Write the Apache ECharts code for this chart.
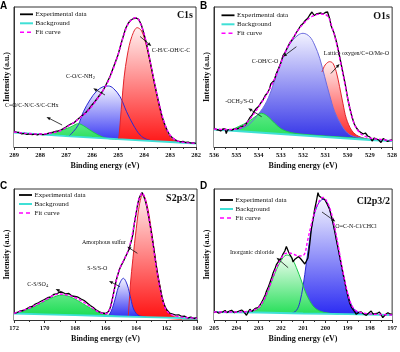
<!DOCTYPE html>
<html>
<head>
<meta charset="utf-8">
<script src="https://cdn.jsdelivr.net/npm/echarts@6/dist/echarts.min.js"></script>
<style>
  html, body { margin: 0; background: #fff; }
  #chart { width: 400px; height: 352px; }
</style>
</head>
<body>
<div id="chart"></div>
<script>
// ---- panel A: C1s  [binding energy, intensity] ----
const aExp = [[289.0,15.3],[288.9,14.8],[288.8,14.5],[288.7,13.2],[288.6,13.6],[288.5,12.6],[288.4,13.2],[288.3,12.4],[288.2,12.8],[288.1,12.1],[288.0,13.0],[287.9,12.3],[287.8,12.6],[287.7,13.5],[287.6,14.2],[287.5,14.8],[287.4,15.6],[287.3,16.2],[287.2,17.0],[287.1,18.4],[287.0,20.0],[286.9,21.8],[286.8,23.2],[286.7,24.1],[286.6,26.5],[286.5,28.8],[286.4,31.0],[286.3,33.0],[286.2,35.5],[286.1,38.5],[286.0,42.0],[285.9,45.0],[285.8,48.5],[285.7,52.0],[285.6,55.5],[285.5,60.0],[285.4,65.5],[285.3,71.0],[285.2,78.0],[285.1,85.0],[285.0,92.0],[284.9,101.5],[284.8,110.5],[284.7,119.0],[284.6,124.0],[284.5,127.0],[284.4,128.5],[284.35,130.0],[284.3,129.0],[284.25,129.6],[284.2,127.5],[284.1,122.0],[284.0,113.0],[283.9,103.0],[283.8,90.0],[283.7,77.0],[283.6,64.0],[283.5,52.0],[283.4,40.5],[283.3,30.0],[283.2,22.5],[283.1,16.0],[283.0,11.5],[282.9,9.0],[282.8,7.2],[282.7,6.0],[282.6,5.2],[282.5,5.6],[282.4,4.5],[282.3,4.8],[282.2,4.0],[282.1,4.2],[282.0,3.6]];
const aFit = [[289.0,15.0],[288.5,13.6],[288.0,13.0],[287.6,13.8],[287.2,16.5],[287.0,19.5],[286.8,22.8],[286.6,26.3],[286.4,30.5],[286.2,35.0],[286.0,41.0],[285.8,48.0],[285.6,55.5],[285.4,64.5],[285.2,77.0],[285.0,92.0],[284.8,110.0],[284.6,123.5],[284.4,128.8],[284.3,129.2],[284.2,127.0],[284.0,113.5],[283.8,90.5],[283.6,64.5],[283.4,41.0],[283.2,23.0],[283.0,12.0],[282.8,7.3],[282.6,5.3],[282.4,4.5],[282.2,4.0],[282.0,3.6]];
const aBg = [[289,14.5],[288,12.6],[287,10.9],[286,9.3],[285,7.8],[284,6.4],[283,5.0],[282,3.5]];
const aRed = [[285.1,7.6],[285.0,8.0],[284.95,14.0],[284.9,30.0],[284.85,45.0],[284.77,68.7],[284.64,92.0],[284.47,110.3],[284.26,119.3],[284.09,116.0],[283.9,100.3],[283.7,77.0],[283.51,52.0],[283.32,30.3],[283.13,15.3],[282.93,8.0],[282.68,5.3],[282.4,4.4]];
const aBlue = [[286.9,10.6],[286.72,15.3],[286.53,22.0],[286.33,35.3],[286.08,47.0],[285.82,56.0],[285.57,60.3],[285.37,61.0],[285.18,58.7],[284.92,50.3],[284.67,35.3],[284.41,22.0],[284.15,12.0],[283.9,7.7],[283.58,5.6]];
const aGreen = [[287.7,11.9],[287.62,13.7],[287.23,16.3],[286.85,19.7],[286.6,23.0],[286.53,23.3],[286.33,21.3],[286.08,17.0],[285.76,12.0],[285.43,8.7],[285.05,7.8]];

// ---- panel B: O1s ----
const bExp = [[536.0,18.7],[535.9,17.5],[535.8,17.0],[535.7,16.0],[535.6,18.0],[535.5,18.2],[535.45,13.5],[535.4,16.8],[535.3,17.5],[535.2,16.8],[535.1,17.8],[535.0,18.0],[534.9,18.7],[534.8,20.0],[534.7,20.8],[534.6,22.0],[534.5,25.0],[534.4,29.0],[534.3,31.5],[534.2,35.5],[534.1,38.5],[534.0,40.5],[533.9,44.0],[533.8,47.0],[533.7,51.5],[533.6,54.0],[533.5,58.5],[533.45,63.0],[533.4,61.0],[533.3,66.5],[533.2,73.5],[533.1,78.5],[533.0,84.0],[532.9,91.5],[532.8,95.0],[532.75,93.0],[532.7,99.5],[532.6,104.0],[532.5,107.0],[532.4,110.5],[532.3,114.5],[532.2,118.0],[532.1,121.5],[532.0,123.5],[531.9,126.5],[531.8,128.5],[531.7,132.0],[531.6,135.0],[531.5,131.5],[531.4,133.0],[531.3,133.5],[531.2,134.0],[531.1,133.0],[531.0,134.5],[530.9,135.0],[530.85,133.0],[530.8,128.0],[530.75,122.0],[530.7,119.0],[530.6,113.5],[530.5,105.0],[530.4,95.0],[530.3,84.0],[530.2,73.0],[530.1,62.0],[530.0,49.0],[529.9,38.5],[529.8,30.0],[529.7,23.0],[529.6,19.0],[529.5,16.0],[529.4,14.5],[529.3,13.0],[529.2,14.0],[529.1,11.0],[529.0,10.0],[528.9,6.0],[528.8,9.0],[528.7,8.0],[528.6,7.0],[528.5,4.5],[528.4,8.5],[528.3,7.0],[528.2,5.5],[528.1,6.5],[528.0,7.0]];
const bFit = [[536.0,18.0],[535.5,17.5],[535.0,18.0],[534.7,20.5],[534.4,27.5],[534.0,40.0],[533.6,54.0],[533.2,72.0],[532.8,95.0],[532.4,111.0],[532.0,123.0],[531.6,130.5],[531.2,133.0],[530.9,131.0],[530.7,120.0],[530.5,104.0],[530.3,83.0],[530.1,61.0],[529.9,39.0],[529.7,23.0],[529.5,15.5],[529.3,11.5],[529.0,9.0],[528.5,7.5],[528.0,6.5]];
const bBg = [[536,17.5],[535,16],[534,14.5],[533,13],[532,11.5],[531,10],[530,8.5],[529,7],[528,6]];
const bRed = [[531.15,75.0],[531.05,80.5],[530.95,83.5],[530.81,85.3],[530.66,83.7],[530.51,75.3],[530.36,60.3],[530.21,43.7],[530.06,28.7],[529.83,17.0],[529.61,12.0],[529.39,9.7],[529.1,7.6]];
const bBlue = [[535.2,16.8],[534.76,18.7],[534.46,22.0],[534.16,28.7],[533.72,42.0],[533.42,57.0],[533.12,77.0],[532.82,93.7],[532.52,105.3],[532.22,112.0],[532.0,113.7],[531.7,110.3],[531.48,102.0],[531.25,88.7],[531.03,70.3],[530.81,52.0],[530.58,35.3],[530.28,22.0],[529.99,13.7],[529.69,10.3],[529.39,9.3],[529.0,7.5]];
const bGreen = [[535.6,16.9],[535.2,17.6],[534.91,20.3],[534.46,25.3],[534.09,31.3],[533.87,33.7],[533.57,30.3],[533.27,23.7],[532.97,18.0],[532.52,14.3],[531.92,12.6],[531.0,11.0],[530.0,9.5],[529.3,8.2],[528.6,7.2]];

// ---- panel C: S2p3/2 ----
const cExp = [[172.0,6.7],[171.8,7.5],[171.6,9.0],[171.4,9.5],[171.2,11.0],[171.0,12.8],[170.8,13.5],[170.6,16.0],[170.4,17.2],[170.2,19.0],[170.0,20.5],[169.8,22.3],[169.6,23.0],[169.4,25.5],[169.2,26.0],[169.0,28.0],[168.9,26.8],[168.8,27.5],[168.6,26.0],[168.4,26.5],[168.2,24.0],[168.0,23.5],[167.8,22.8],[167.6,21.0],[167.4,19.5],[167.2,17.0],[167.0,14.5],[166.8,12.5],[166.6,9.8],[166.4,8.2],[166.2,7.0],[166.0,6.5],[165.9,7.0],[165.8,8.5],[165.7,12.0],[165.6,17.5],[165.5,24.5],[165.4,32.0],[165.3,39.5],[165.2,45.0],[165.1,50.0],[165.0,53.5],[164.9,56.5],[164.8,59.5],[164.7,63.0],[164.6,66.0],[164.5,69.5],[164.4,74.0],[164.3,79.5],[164.2,86.0],[164.15,92.0],[164.1,97.0],[164.0,106.0],[163.9,115.0],[163.8,121.5],[163.7,125.0],[163.6,127.5],[163.5,124.0],[163.4,120.0],[163.3,114.0],[163.2,106.0],[163.1,97.0],[163.0,88.0],[162.9,78.5],[162.8,68.0],[162.7,57.0],[162.6,47.0],[162.5,38.5],[162.4,31.0],[162.3,23.5],[162.2,17.5],[162.1,13.5],[162.0,10.5],[161.9,8.5],[161.8,7.0],[161.6,6.0],[161.4,4.8],[161.2,5.2],[161.0,3.5],[160.8,3.8],[160.6,2.0],[160.4,2.8],[160.2,1.5],[160.0,2.3]];
const cFit = [[172.0,6.7],[171.0,12.0],[170.0,19.5],[169.5,24.0],[169.0,26.0],[168.5,25.0],[168.0,22.5],[167.5,18.5],[167.0,13.5],[166.5,8.5],[166.0,6.2],[165.8,8.0],[165.6,17.0],[165.4,32.0],[165.2,45.0],[165.0,54.0],[164.8,60.0],[164.6,66.0],[164.4,75.0],[164.2,89.0],[164.0,107.0],[163.8,121.0],[163.6,127.0],[163.4,121.0],[163.2,106.0],[163.0,87.0],[162.8,66.0],[162.6,46.0],[162.4,29.0],[162.2,16.5],[162.0,9.5],[161.7,5.5],[161.3,3.8],[160.8,2.5],[160.0,1.8]];
const cBg = [[172,6.5],[170,5.7],[168,4.8],[166,4.0],[164,3.2],[162,2.3],[160,1.5]];
const cRed = [[164.55,3.4],[164.5,5.0],[164.37,35.0],[164.2,61.7],[163.98,91.7],[163.76,116.7],[163.55,125.7],[163.33,118.3],[163.11,101.7],[162.9,80.0],[162.68,56.7],[162.46,36.7],[162.24,20.0],[161.91,8.3],[161.48,3.3],[161.0,2.6]];
const cBlue = [[165.9,4.0],[165.77,5.0],[165.55,11.7],[165.33,23.3],[165.11,35.0],[164.83,41.7],[164.57,35.0],[164.35,21.7],[164.13,10.0],[163.8,4.3],[163.37,3.4]];
const cGreen = [[172.0,6.5],[171.56,8.3],[170.91,11.7],[170.25,16.7],[169.6,21.7],[168.83,25.0],[168.18,22.3],[167.52,16.7],[166.97,11.7],[166.42,7.7],[165.88,5.0],[165.44,4.2]];

// ---- panel D: Cl2p3/2 ----
const dExp = [[205.0,7.3],[204.9,8.5],[204.8,7.0],[204.73,9.0],[204.6,8.2],[204.5,9.5],[204.43,7.3],[204.3,8.8],[204.21,9.7],[204.1,7.5],[203.98,8.0],[203.9,9.2],[203.76,10.0],[203.65,8.0],[203.54,4.7],[203.45,8.5],[203.39,10.7],[203.3,8.6],[203.24,9.0],[203.15,11.5],[203.02,12.3],[202.9,16.0],[202.79,20.7],[202.7,25.0],[202.64,29.0],[202.55,33.5],[202.49,37.3],[202.4,43.0],[202.34,47.3],[202.25,52.0],[202.19,55.7],[202.1,58.5],[202.0,61.0],[201.9,66.0],[201.82,69.0],[201.75,73.5],[201.7,71.5],[201.65,68.0],[201.6,65.7],[201.5,62.0],[201.45,58.0],[201.38,60.5],[201.3,62.3],[201.2,63.5],[201.15,64.7],[201.08,60.5],[201.0,59.0],[200.92,56.0],[200.85,55.7],[200.78,62.0],[200.73,70.7],[200.68,80.0],[200.63,90.7],[200.55,101.0],[200.48,110.7],[200.4,119.0],[200.33,127.3],[200.28,124.0],[200.22,122.3],[200.12,121.5],[200.03,120.7],[199.92,116.0],[199.81,110.7],[199.73,104.0],[199.66,97.3],[199.58,89.0],[199.51,80.7],[199.43,72.0],[199.36,64.0],[199.28,55.5],[199.21,47.3],[199.13,39.0],[199.06,30.7],[198.98,23.5],[198.91,17.3],[198.83,13.0],[198.76,10.7],[198.68,8.2],[198.61,5.7],[198.5,7.5],[198.39,8.0],[198.28,6.0],[198.16,4.7],[198.05,7.0],[197.94,9.0],[197.86,6.0],[197.79,4.0],[197.68,6.5],[197.57,8.0],[197.5,5.5],[197.42,2.3],[197.3,5.5],[197.19,7.3],[197.1,6.0],[197.0,5.7]];
const dFit = [[205.0,8.0],[204.0,8.0],[203.5,8.5],[203.2,10.0],[203.0,12.5],[202.8,18.5],[202.6,28.0],[202.4,40.0],[202.2,52.0],[202.0,61.0],[201.8,66.5],[201.6,67.0],[201.4,65.5],[201.2,64.0],[201.0,64.5],[200.9,68.0],[200.8,79.0],[200.6,98.0],[200.4,113.0],[200.2,121.5],[200.1,122.5],[200.0,121.0],[199.8,112.0],[199.6,95.0],[199.4,71.5],[199.2,47.0],[199.0,27.0],[198.8,14.0],[198.6,9.0],[198.3,7.0],[198.0,6.0],[197.5,5.5],[197.0,5.0]];
const dBg = [[205,8.0],[203,7.5],[201,6.5],[199,5.8],[197,5.0]];
const dGreen = [[203.6,7.8],[203.39,9.3],[203.02,10.7],[202.79,17.3],[202.49,34.0],[202.19,50.7],[201.9,62.3],[201.72,65.0],[201.52,62.3],[201.3,52.3],[201.07,39.0],[200.85,25.7],[200.55,14.0],[200.25,9.0],[199.81,6.7],[199.4,6.0]];
const dBlue = [[201.5,6.7],[201.3,9.5],[201.15,17.3],[201.0,34.0],[200.85,57.3],[200.7,80.7],[200.55,100.7],[200.33,115.7],[200.1,120.7],[199.88,115.7],[199.66,97.3],[199.43,72.3],[199.21,45.7],[198.99,25.7],[198.76,12.3],[198.46,7.3],[198.0,6.0],[197.6,5.5]];

const legendNames = ['Experimental data', 'Background', 'Fit curve'];
const SERIF = "'Liberation Serif', 'Times New Roman', serif";

const EXP_COLOR = '#000000';
const BG_COLOR = '#3fe0d6';
const FIT_COLOR = '#ff00ff';
const RED = { line: '#e3232a', top: '#fff0f0', bottom: '#ff0f0f' };
const BLUE = { line: '#2a2ad2', top: '#f6f6ff', bottom: '#2222f2' };
const BLUE_B = { line: '#6c6cdf', top: '#f2f2ff', bottom: '#2626e6' };
const GREEN = { line: '#1ccc4a', top: '#5de884', bottom: '#10da4a' };
const GREEN_D = { line: '#1ccc4a', top: '#f2fdf2', bottom: '#12dc4a' };

const panels = [
  {
    letter: 'A', title: 'C1s', grid: { left: 14, top: 7, width: 182, height: 140 },
    xMin: 282, xMax: 289, step: 1, yMax: 140,
    exp: aExp, fit: aFit, bg: aBg,
    fills: [[aBlue, BLUE], [aRed, RED], [aGreen, GREEN]],
    legend: [20, 14.3], titlePos: [193, 15], letterPos: [0, 1],
    notes: [
      { t: 'C-H/C-OH/C-C', at: [283.7, 96.5], head: [283.72, 101], tail: [284.15, 110.5] },
      { t: 'C-O/C-NH{s|2}', at: [287.0, 70.3], head: [285.95, 58.7], tail: [285.5, 52] },
      { t: 'C=O/C-N/C-S/C-CHx', at: [289.35, 42], head: [287.75, 30], tail: [287.15, 22] }
    ]
  },
  {
    letter: 'B', title: 'O1s', grid: { left: 214, top: 7, width: 179, height: 140 },
    xMin: 528, xMax: 536, step: 1, yMax: 140,
    exp: bExp, fit: bFit, bg: bBg,
    fills: [[bRed, RED], [bBlue, BLUE_B], [bGreen, GREEN]],
    legend: [221.5, 15.3], titlePos: [390, 16], letterPos: [200, 1],
    notes: [
      { t: 'C-OH/C-O', at: [534.31, 85.3], head: [532.9, 90.3], tail: [532.3, 100.3] },
      { t: 'Lattice oxygen/C=O/Me-O', at: [531.07, 93.7], head: [530.36, 83], tail: [530.75, 73.5] },
      { t: '-OCH{s|3}/S-O', at: [535.5, 45.3], head: [534.46, 38.7], tail: [533.86, 30.3] }
    ]
  },
  {
    letter: 'C', title: 'S2p3/2', grid: { left: 14, top: 189, width: 183, height: 131 },
    xMin: 160, xMax: 172, step: 2, yMax: 131,
    exp: cExp, fit: cFit, bg: cBg,
    fills: [[cRed, RED], [cBlue, BLUE], [cGreen, GREEN]],
    legend: [19, 195], titlePos: [195, 198.5], letterPos: [0, 181],
    notes: [
      { t: 'Amorphous sulfur', at: [167.54, 77.7], head: [164.57, 73.3], tail: [163.91, 66.7] },
      { t: 'S-S/S-O', at: [167.19, 51.7], head: [165.77, 39], tail: [165.05, 33.3] },
      { t: 'C-S/SO{s|4}', at: [171.13, 35.7], head: [169.27, 31], tail: [168.83, 27.7] }
    ]
  },
  {
    letter: 'D', title: 'Cl2p3/2', grid: { left: 214, top: 189, width: 179, height: 131 },
    xMin: 197, xMax: 205, step: 1, yMax: 131,
    exp: dExp, fit: dFit, bg: dBg,
    fills: [[dBlue, BLUE], [dGreen, GREEN_D]],
    legend: [220, 200], titlePos: [390, 201], letterPos: [200, 181],
    notes: [
      { t: 'O=C-N-Cl/CHCl', at: [199.55, 94], head: [199.55, 98.5], tail: [200.15, 108] },
      { t: 'Inorganic chloride', at: [204.28, 68], head: [202.19, 62.3], tail: [201.67, 52.3] }
    ]
  }
];

function grad(top, bottom) {
  return { type: 'linear', x: 0, y: 0, x2: 0, y2: 1,
    colorStops: [{ offset: 0, color: top }, { offset: 1, color: bottom }] };
}

const series = [];
panels.forEach((p, i) => {
  const base = { type: 'line', xAxisIndex: i, yAxisIndex: i, symbol: 'none', silent: true,
    emphasis: { disabled: true } };
  p.fills.forEach(([data, c]) => {
    series.push({ ...base, data, smooth: 0.35, lineStyle: { opacity: 0 },
      areaStyle: { color: grad(c.top, c.bottom), opacity: 1 } });
  });
  // white mask below the background line
  series.push({ ...base, data: p.bg, lineStyle: { opacity: 0 },
    areaStyle: { color: '#ffffff', opacity: 1 } });
  p.fills.forEach(([data, c]) => {
    series.push({ ...base, data, smooth: 0.35, lineStyle: { color: c.line, width: 1 } });
  });
  series.push({ ...base, name: legendNames[1], data: p.bg,
    lineStyle: { color: BG_COLOR, width: 1.8 } });
  series.push({ ...base, name: legendNames[0], data: p.exp,
    lineStyle: { color: EXP_COLOR, width: 1.3 } });
  series.push({ ...base, name: legendNames[2], data: p.fit, smooth: 0.35,
    lineStyle: { color: FIT_COLOR, width: 1.4, type: [3, 2] } });
});

const option = {
  animation: false,
  backgroundColor: '#ffffff',
  grid: panels.map(p => ({ ...p.grid, show: true, borderColor: '#333', borderWidth: 1,
    backgroundColor: 'transparent', containLabel: false })),
  xAxis: panels.map((p, i) => ({
    gridIndex: i, type: 'value', inverse: true, min: p.xMin, max: p.xMax, interval: p.step,
    name: 'Binding energy (eV)', nameLocation: 'middle', nameGap: 15,
    nameTextStyle: { fontFamily: SERIF, fontWeight: 'bold', fontSize: 8, color: '#111' },
    axisLine: { show: true, onZero: false, lineStyle: { color: '#333', width: 1 } },
    axisTick: { show: true, inside: false, length: 3, lineStyle: { color: '#333' } },
    minorTick: { show: true, splitNumber: 2, length: 2, lineStyle: { color: '#333' } },
    axisLabel: { fontFamily: SERIF, fontWeight: 'bold', fontSize: 6.5, color: '#111', margin: 5 },
    splitLine: { show: false }
  })),
  yAxis: panels.map((p, i) => ({
    gridIndex: i, type: 'value', min: 0, max: p.yMax,
    name: 'Intensity (a.u.)', nameLocation: 'middle', nameGap: 3,
    nameTextStyle: { fontFamily: SERIF, fontWeight: 'bold', fontSize: 8, color: '#111' },
    axisLine: { show: true, onZero: false, lineStyle: { color: '#333', width: 1 } },
    axisTick: { show: false }, axisLabel: { show: false }, splitLine: { show: false }
  })),
  series
};

const chart = echarts.init(document.getElementById('chart'));
chart.setOption(option);

// legend keys, titles, panel letters, peak labels with arrows
const legendKeys = [
  { color: EXP_COLOR, width: 1.8, dash: null },
  { color: BG_COLOR, width: 2, dash: null },
  { color: FIT_COLOR, width: 1.5, dash: [4, 3] }
];
const elements = [];
panels.forEach((p, i) => {
  legendNames.forEach((name, k) => {
    const y = p.legend[1] + k * 9;
    const key = legendKeys[k];
    elements.push({ type: 'line', shape: { x1: p.legend[0], y1: y, x2: p.legend[0] + 13, y2: y },
      style: { stroke: key.color, lineWidth: key.width, lineDash: key.dash } });
    elements.push({ type: 'text', style: { text: name, x: p.legend[0] + 15.5, y: y,
      font: '7px ' + SERIF, fill: '#111', textVerticalAlign: 'middle', verticalAlign: 'middle' } });
  });
  elements.push({ type: 'text', style: { text: p.letter, x: p.letterPos[0], y: p.letterPos[1],
    font: 'bold 10px "Liberation Sans", Arial, sans-serif', fill: '#000' } });
  elements.push({ type: 'text', style: { text: p.title, x: p.titlePos[0], y: p.titlePos[1],
    font: 'bold 10px ' + SERIF, fill: '#111', textAlign: 'right', align: 'right',
    textVerticalAlign: 'middle', verticalAlign: 'middle' } });
  p.notes.forEach(n => {
    const at = chart.convertToPixel({ gridIndex: i }, n.at);
    const h = chart.convertToPixel({ gridIndex: i }, n.head);
    const t = chart.convertToPixel({ gridIndex: i }, n.tail);
    elements.push({ type: 'text', z: 20, style: { text: n.t, x: at[0], y: at[1],
      font: '6px ' + SERIF, fill: '#111', textAlign: 'left', align: 'left',
      textVerticalAlign: 'middle', verticalAlign: 'middle',
      rich: { s: { fontSize: 4.5, fontFamily: SERIF, padding: [3, 0, 0, 0] } } } });
    const dx = h[0] - t[0], dy = h[1] - t[1];
    const len = Math.sqrt(dx * dx + dy * dy) || 1;
    const ux = dx / len, uy = dy / len;
    const bx = h[0] - ux * 4, by = h[1] - uy * 4;
    elements.push({ type: 'line', z: 20, shape: { x1: t[0], y1: t[1], x2: bx, y2: by },
      style: { stroke: '#111', lineWidth: 0.8 } });
    elements.push({ type: 'polygon', z: 20, shape: { points: [[h[0], h[1]],
      [bx - uy * 1.6, by + ux * 1.6], [bx + uy * 1.6, by - ux * 1.6]] },
      style: { fill: '#111' } });
  });
});
chart.setOption({ graphic: { elements } });
</script>
</body>
</html>
